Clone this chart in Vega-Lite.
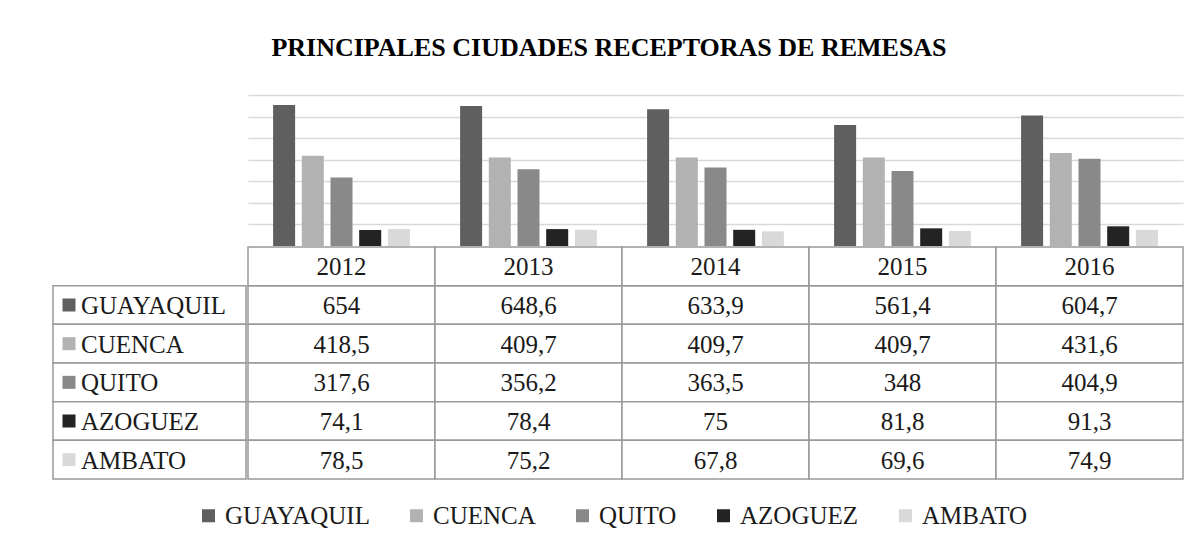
{
  "$schema": "https://vega.github.io/schema/vega-lite/v6.json",
  "background": "white",
  "padding": {"left": 52, "top": 35, "right": 10, "bottom": 10},
  "title": {"text": "PRINCIPALES CIUDADES RECEPTORAS DE REMESAS", "font": "Liberation Serif, DejaVu Serif, serif", "fontSize": 26, "fontWeight": "bold", "color": "#000000", "anchor": "middle", "offset": 34, "dx": -9},
  "data": {"values": [
    {"year": "2012", "city": "GUAYAQUIL", "value": 654},
    {"year": "2012", "city": "CUENCA", "value": 418.5},
    {"year": "2012", "city": "QUITO", "value": 317.6},
    {"year": "2012", "city": "AZOGUEZ", "value": 74.1},
    {"year": "2012", "city": "AMBATO", "value": 78.5},
    {"year": "2013", "city": "GUAYAQUIL", "value": 648.6},
    {"year": "2013", "city": "CUENCA", "value": 409.7},
    {"year": "2013", "city": "QUITO", "value": 356.2},
    {"year": "2013", "city": "AZOGUEZ", "value": 78.4},
    {"year": "2013", "city": "AMBATO", "value": 75.2},
    {"year": "2014", "city": "GUAYAQUIL", "value": 633.9},
    {"year": "2014", "city": "CUENCA", "value": 409.7},
    {"year": "2014", "city": "QUITO", "value": 363.5},
    {"year": "2014", "city": "AZOGUEZ", "value": 75},
    {"year": "2014", "city": "AMBATO", "value": 67.8},
    {"year": "2015", "city": "GUAYAQUIL", "value": 561.4},
    {"year": "2015", "city": "CUENCA", "value": 409.7},
    {"year": "2015", "city": "QUITO", "value": 348},
    {"year": "2015", "city": "AZOGUEZ", "value": 81.8},
    {"year": "2015", "city": "AMBATO", "value": 69.6},
    {"year": "2016", "city": "GUAYAQUIL", "value": 604.7},
    {"year": "2016", "city": "CUENCA", "value": 431.6},
    {"year": "2016", "city": "QUITO", "value": 404.9},
    {"year": "2016", "city": "AZOGUEZ", "value": 91.3},
    {"year": "2016", "city": "AMBATO", "value": 74.9}
  ]},
  "columns": 2,
  "spacing": 0,
  "align": "each",
  "concat": [
    {
      "width": 193, "height": 151,
      "mark": {"type": "point", "opacity": 0}
    },
    {
      "width": 935, "height": 151,
      "mark": {"type": "bar"},
      "encoding": {
        "x": {"field": "year", "type": "nominal", "axis": null, "scale": {"paddingInner": 0, "paddingOuter": 0}},
        "xOffset": {"field": "city", "type": "nominal", "scale": {"domain": ["GUAYAQUIL", "CUENCA", "QUITO", "AZOGUEZ", "AMBATO"], "paddingInner": 0.233, "paddingOuter": 0.875}},
        "y": {"field": "value", "type": "quantitative", "scale": {"domain": [0, 700], "nice": false},
              "axis": {"values": [100, 200, 300, 400, 500, 600, 700], "labels": false, "ticks": false, "domain": false, "title": null, "grid": true, "gridColor": "#d9d9d9", "gridWidth": 1.5, "minExtent": 0, "maxExtent": 0}},
        "color": {"field": "city", "type": "nominal", "title": null,
                  "scale": {"domain": ["GUAYAQUIL", "CUENCA", "QUITO", "AZOGUEZ", "AMBATO"], "range": ["#5f5f5f", "#b2b2b2", "#898989", "#232323", "#d9d9d9"]}}
      }
    },
    {
      "width": 193, "height": 232,
      "transform": [{"filter": "datum.year == '2012'"}],
      "encoding": {
        "y": {"field": "city", "type": "nominal", "axis": null, "scale": {"domain": ["hdr", "GUAYAQUIL", "CUENCA", "QUITO", "AZOGUEZ", "AMBATO"], "paddingInner": 0, "paddingOuter": 0}}
      },
      "layer": [
        {"mark": {"type": "rect", "fill": "white", "stroke": "#999999", "strokeWidth": 1.5}},
        {"mark": {"type": "point", "shape": "square", "filled": true, "size": 169, "opacity": 1},
         "encoding": {"x": {"value": 16}, "color": {"field": "city", "type": "nominal", "title": null}}},
        {"mark": {"type": "text", "align": "left", "baseline": "middle", "font": "Liberation Serif, DejaVu Serif, serif", "fontSize": 25, "color": "#1a1a1a", "dy": 1},
         "encoding": {"x": {"value": 28}, "text": {"field": "city"}}}
      ]
    },
    {
      "width": 935, "height": 232,
      "encoding": {
        "x": {"field": "year", "type": "nominal", "axis": null, "scale": {"paddingInner": 0, "paddingOuter": 0}}
      },
      "layer": [
        {"mark": {"type": "rect", "fill": "white", "stroke": "#999999", "strokeWidth": 1.5},
         "encoding": {"y": {"field": "city", "type": "nominal", "axis": null, "scale": {"domain": ["hdr", "GUAYAQUIL", "CUENCA", "QUITO", "AZOGUEZ", "AMBATO"], "paddingInner": 0, "paddingOuter": 0}}}},
        {"transform": [{"filter": "datum.city == 'GUAYAQUIL'"}],
         "mark": {"type": "rect", "fill": "white", "stroke": "#999999", "strokeWidth": 1.5},
         "encoding": {"y": {"datum": "hdr", "type": "nominal"}}},
        {"mark": {"type": "text", "align": "center", "baseline": "middle", "font": "Liberation Serif, DejaVu Serif, serif", "fontSize": 25, "color": "#1a1a1a", "dy": 1},
         "encoding": {"y": {"field": "city", "type": "nominal"}, "text": {"field": "value", "type": "quantitative", "format": ".1~f"}}},
        {"transform": [{"filter": "datum.city == 'GUAYAQUIL'"}],
         "mark": {"type": "text", "align": "center", "baseline": "middle", "font": "Liberation Serif, DejaVu Serif, serif", "fontSize": 25, "color": "#1a1a1a", "dy": 1},
         "encoding": {"y": {"datum": "hdr", "type": "nominal"}, "text": {"field": "year"}}}
      ]
    }
  ],
  "config": {
    "view": {"stroke": null},
    "locale": {"number": {"decimal": ",", "thousands": ".", "grouping": [3], "currency": ["", " €"]}},
    "legend": {"orient": "none", "legendX": 143, "legendY": 408, "direction": "horizontal", "columns": 5, "symbolType": "square", "symbolSize": 169, "symbolStrokeWidth": 0, "labelFont": "Liberation Serif, DejaVu Serif, serif", "labelFontSize": 25, "labelColor": "#1a1a1a", "labelOffset": 4, "columnPadding": 34, "padding": 0, "labelLimit": 400}
  }
}
